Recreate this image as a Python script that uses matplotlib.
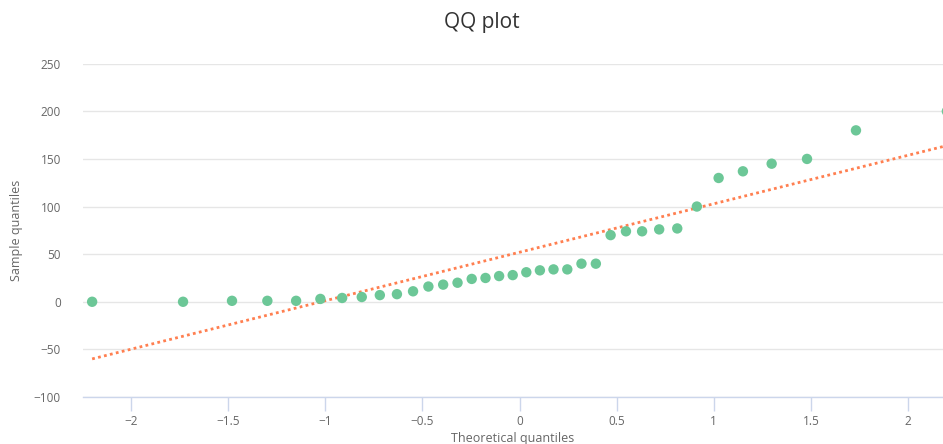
import matplotlib
matplotlib.use("Agg")
import matplotlib.pyplot as plt

# theoretical normal quantiles for 36 samples
theo_q = [-2.200, -1.732, -1.480, -1.298, -1.150, -1.025, -0.913, -0.812, -0.719,
          -0.631, -0.548, -0.469, -0.393, -0.319, -0.246, -0.175, -0.105, -0.035,
          0.035, 0.105, 0.175, 0.246, 0.319, 0.393, 0.469, 0.548, 0.631,
          0.719, 0.812, 0.913, 1.025, 1.150, 1.298, 1.480, 1.732, 2.200]
sample_q = [0, 0, 1, 1, 1, 3, 4, 5, 7, 8, 11, 16, 18, 20, 24, 25, 27, 28,
            31, 33, 34, 34, 40, 40, 70, 74, 74, 76, 77, 100, 130, 137, 145, 150, 180, 200]

# reference line (mean + sd * z)
line_x = [-2.2, 2.2]
line_y = [-60, 164]

xticks = [-2, -1.5, -1, -0.5, 0, 0.5, 1, 1.5, 2]
yticks = [-100, -50, 0, 50, 100, 150, 200, 250]

plt.rcParams['font.family'] = ['Open Sans', 'DejaVu Sans']

fig = plt.figure(figsize=(9.43, 4.44), dpi=100)
ax = fig.add_axes([83 / 943, 1 - 397 / 444, 1 - 83 / 943, (397 - 63.7) / 444])

ax.plot(line_x, line_y, color='#ff7f50', lw=2, linestyle=(0, (1, 1.2)), zorder=2)
ax.scatter(theo_q, sample_q, s=56, color='#6cc797', edgecolors='none', zorder=3)

ax.set_xlim(-2.247, 2.180)
ax.set_ylim(-100, 250)
ax.set_xticks(xticks)
ax.set_xticklabels(['\u22122', '\u22121.5', '\u22121', '\u22120.5', '0', '0.5', '1', '1.5', '2'])
ax.set_yticks(yticks)
ax.set_yticklabels([('\u2212' + str(-v)) if v < 0 else str(v) for v in yticks])

ax.grid(axis='y', color='#e6e6e6', lw=1)
ax.set_axisbelow(True)
for side in ['top', 'right', 'left']:
    ax.spines[side].set_visible(False)
ax.spines['bottom'].set_color('#ccd6eb')
ax.spines['bottom'].set_linewidth(1)

ax.tick_params(axis='x', colors='#ccd6eb', length=10, width=1, labelcolor='#666666',
               labelsize=8.5, pad=3)
ax.tick_params(axis='y', length=0, labelcolor='#666666', labelsize=8.5, pad=16)

ax.set_xlabel('Theoretical quantiles', color='#666666', fontsize=9, labelpad=3)
ax.set_ylabel('Sample quantiles', color='#666666', fontsize=9, labelpad=8)
fig.text(0.511, 0.95, 'QQ plot', ha='center', va='center', fontsize=15, color='#333333')

fig.savefig('out.png', dpi=100)
